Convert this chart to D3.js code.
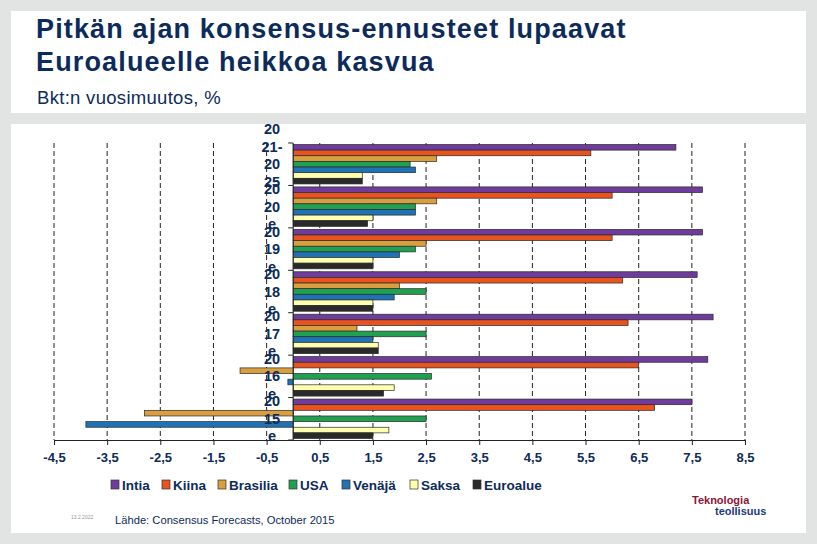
<!DOCTYPE html>
<html><head><meta charset="utf-8">
<script src="https://cdn.jsdelivr.net/npm/d3@7"></script>
<style>
body{margin:0;background:#e1e4e2;}
svg{display:block;font-family:"Liberation Sans",Arial,sans-serif;}
</style></head>
<body><svg id="c" width="817" height="544"></svg>
<script>
const categories = ["2021-2025","2020e","2019e","2018e","2017e","2016e","2015e"];
const seriesNames = ["Intia","Kiina","Brasilia","USA","Venäjä","Saksa","Euroalue"];
const seriesColors = ["#6f3c9e","#e8531f","#d99f3e","#22a052","#1f72b4","#ffffb0","#2a2a2a"];
const intia    = [7.2, 7.7, 7.7, 7.6, 7.9, 7.8, 7.5];
const kiina    = [5.6, 6.0, 6.0, 6.2, 6.3, 6.5, 6.8];
const brasilia = [2.7, 2.7, 2.5, 2.0, 1.2, -1.0, -2.8];
const usa      = [2.2, 2.3, 2.3, 2.5, 2.5, 2.6, 2.5];
const venaja   = [2.3, 2.3, 2.0, 1.9, 1.5, -0.1, -3.9];
const saksa    = [1.3, 1.5, 1.5, 1.5, 1.6, 1.9, 1.8];
const euroalue = [1.3, 1.4, 1.5, 1.5, 1.6, 1.7, 1.5];
const xTicks = [-4.5,-3.5,-2.5,-1.5,-0.5,0.5,1.5,2.5,3.5,4.5,5.5,6.5,7.5,8.5];
const titleLines = ["Pitkän ajan konsensus-ennusteet lupaavat","Euroalueelle heikkoa kasvua"];
const subtitle = "Bkt:n vuosimuutos, %";
const source = "Lähde: Consensus Forecasts, October 2015";

const seriesValues = [intia,kiina,brasilia,usa,venaja,saksa,euroalue];
const navy = "#0c2b5b";
const svg = d3.select("#c");

// panels
svg.append("rect").attr("x",11).attr("y",11).attr("width",795).attr("height",102).attr("fill","#fff");
svg.append("rect").attr("x",11).attr("y",124).attr("width",795).attr("height",409).attr("fill","#fff");

// titles
svg.selectAll("text.title").data(titleLines).enter().append("text")
  .attr("x",36).attr("y",(d,i)=>38+i*33).attr("letter-spacing",1.15)
  .attr("font-size",27).attr("font-weight","bold").attr("fill",navy).text(d=>d);
svg.append("text").attr("x",37).attr("y",104).attr("font-size",18.5).attr("letter-spacing",0.3)
  .attr("fill",navy).text(subtitle);

const x = d3.scaleLinear().domain([-4.5,8.5]).range([54,745]);
const y0 = d3.scaleBand().domain(categories).range([143,440]).paddingInner(0.07).paddingOuter(0.035);
const y1 = d3.scaleBand().domain(seriesNames).range([0,y0.bandwidth()]);

// gridlines
svg.append("g").selectAll("line").data(xTicks).enter().append("line")
  .attr("x1",d=>x(d)).attr("x2",d=>x(d)).attr("y1",143).attr("y2",440)
  .attr("stroke","#222").attr("stroke-width",1).attr("stroke-dasharray","5,3");

// bars
const groups = svg.append("g").selectAll("g").data(categories).enter().append("g")
  .attr("transform",d=>`translate(0,${y0(d)})`);
groups.selectAll("rect").data((c,ci)=>seriesNames.map((s,si)=>({s,si,v:seriesValues[si][ci]})))
  .enter().append("rect")
  .attr("x",d=>x(Math.min(0,d.v))).attr("width",d=>Math.abs(x(d.v)-x(0)))
  .attr("y",d=>y1(d.s)).attr("height",y1.bandwidth())
  .attr("fill",d=>seriesColors[d.si]).attr("stroke","#2a2a2a").attr("stroke-width",0.7);

// x axis
const xAxis = svg.append("g").attr("transform","translate(0,440)")
  .call(d3.axisBottom(x).tickValues(xTicks).tickSize(5).tickSizeOuter(0)
    .tickFormat(d=>d3.format(".1f")(d).replace(".",",").replace("−","-")));
xAxis.select(".domain").attr("stroke","#222");
xAxis.selectAll(".tick line").attr("stroke","#222");
xAxis.selectAll("text").attr("font-size",13).attr("font-weight","bold").attr("fill",navy)
  .attr("font-family","Liberation Sans, Arial, sans-serif").attr("dy","1.1em");

// y axis
const yAxis = svg.append("g").attr("transform",`translate(${x(0)},0)`);
yAxis.append("line").attr("x1",0).attr("x2",0).attr("y1",143).attr("y2",440).attr("stroke","#222");
const boundaries = d3.range(categories.length+1).map(i=>143+i*(297/categories.length));
yAxis.selectAll("line.t").data(boundaries).enter().append("line")
  .attr("x1",-5).attr("x2",0).attr("y1",d=>d).attr("y2",d=>d).attr("stroke","#222");

// y labels (wrapped as in original)
const lh = 17.5;
categories.forEach(c=>{
  const parts = c.match(/\d{2}-?|e/g);
  const n = parts.length;
  const cy = y0(c)+y0.bandwidth()/2;
  const t = svg.append("text").attr("text-anchor","middle").attr("font-size",14.5)
    .attr("font-weight","bold").attr("fill",navy);
  parts.forEach((p,i)=>{
    t.append("tspan").attr("x",272).attr("y",cy+(i-(n-2))*lh+5).text(p);
  });
});

// legend
const legX = [111,162,218,289,342,410,473];
const leg = svg.append("g").selectAll("g").data(seriesNames).enter().append("g")
  .attr("transform",(d,i)=>`translate(${legX[i]},480)`);
leg.append("rect").attr("width",8).attr("height",9).attr("fill",(d,i)=>seriesColors[i])
  .attr("stroke","#333").attr("stroke-width",0.7);
leg.append("text").attr("x",11).attr("y",9.5).attr("font-size",13.5).attr("font-weight","bold")
  .attr("fill",navy).text(d=>d);

// footer
svg.append("text").attr("x",71).attr("y",519).attr("font-size",5).attr("fill","#999").text("13.2.2022");
svg.append("text").attr("x",115).attr("y",524).attr("font-size",11.2).attr("fill",navy).text(source);
svg.append("text").attr("x",692).attr("y",504).attr("font-size",11).attr("font-weight","bold").attr("fill","#8b1538").text("Teknologia");
svg.append("text").attr("x",715).attr("y",515).attr("font-size",11).attr("font-weight","bold").attr("fill","#1b3a7a").text("teollisuus");
</script></body></html>
